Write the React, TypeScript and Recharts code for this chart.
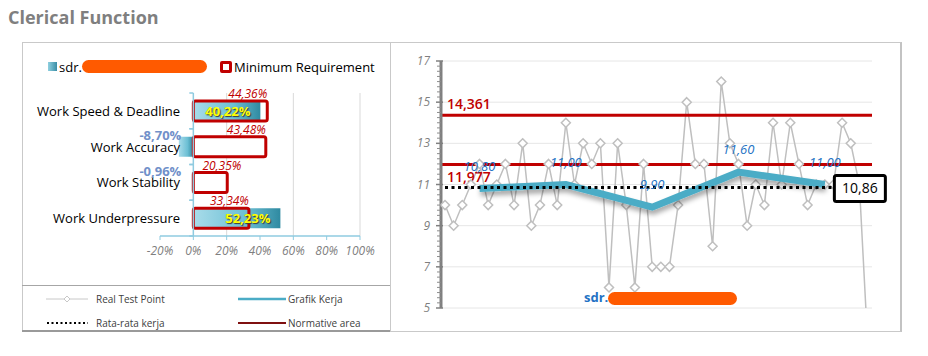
import React from 'react';
import {
  BarChart,
  Bar,
  XAxis,
  YAxis,
  CartesianGrid,
  ReferenceLine,
  ReferenceDot,
  LabelList,
  LineChart,
  Line,
} from 'recharts';

const FONT = '"Open Sans", "Noto Sans", sans-serif';

// left panel: score vs minimum requirement (%)
const CATEGORIES = ['Work Speed & Deadline', 'Work Accuracy', 'Work Stability', 'Work Underpressure'];
const SCORES = [40.22, -8.7, -0.96, 52.23];
const MIN_REQUIREMENT = [44.36, 43.48, 20.35, 33.34];
const PCT_TICKS = [-20, 0, 20, 40, 60, 80, 100];
const PCT_GRID = [20, 40, 60, 80, 100];

// right panel: real test points per test
const TEST_POINTS = [
  10, 9, 10, 11, 12, 10, 11, 12, 10, 13,
  9, 10, 12, 10, 14, 11, 13, 12, 13, 6,
  13, 10, 6, 12, 7, 7, 7, 10, 15, 12,
  12, 8, 16, 13, 12, 9, 11, 10, 14, 11,
  14, 12, 10, 11, 11, 11, 14, 13, 11, 3,
];
const KERJA_AT = [5, 15, 25, 35, 45];
const KERJA_VALUES = [10.8, 11.0, 9.9, 11.6, 11.0];
const RATA_RATA = 10.86;
const RATA_END = 46;
const RATA_LABEL_AT = 49;
const NORMATIVE = [14.361, 11.977];
const Y_TICKS = [5, 7, 9, 11, 13, 15, 17];

const comma = (v: number, d: number) => v.toFixed(d).replace('.', ',');

const barData = CATEGORIES.map((name, i) => ({
  name,
  score: SCORES[i],
  minBg: MIN_REQUIREMENT[i],
  min: MIN_REQUIREMENT[i],
}));

const lineData = TEST_POINTS.map((v, i) => {
  const k = KERJA_AT.indexOf(i + 1);
  return { test: i + 1, real: v, kerja: k >= 0 ? KERJA_VALUES[k] : null };
});

// bar chart geometry
const BAR_W = 368;
const BAR_H = 243;
const BAR_M = { top: 51, right: 30, bottom: 19, left: 0 };
const BAR_YAXIS_W = 138;
const BAR_PLOT_W = BAR_W - BAR_YAXIS_W - BAR_M.right;
const BAR_PLOT_H = BAR_H - BAR_M.top - BAR_M.bottom - 30;
const ZERO_SHIFT = (BAR_PLOT_W * 20) / 120;

// line chart geometry
const LINE_W = 502;
const LINE_H = 290;
const LINE_YAXIS_W = 41;
const LINE_M = { top: 19, right: 30, bottom: 24, left: 0 };
const LINE_PLOT_H = LINE_H - LINE_M.top - LINE_M.bottom;

function CatTick(props: any) {
  const { x, y, payload } = props;
  const zx = x + ZERO_SHIFT;
  const half = BAR_PLOT_H / CATEGORIES.length / 2;
  return (
    <g>
      <line x1={zx - 4} x2={zx} y1={y - half} y2={y - half} stroke="#8fcbe0" strokeWidth={1.5} />
      <line x1={zx - 4} x2={zx} y1={y + half} y2={y + half} stroke="#8fcbe0" strokeWidth={1.5} />
      <text x={x + 20} y={y + 5} textAnchor="end" fontSize={13} fill="#000">
        {payload.value}
      </text>
    </g>
  );
}

function rectOf(props: any) {
  const vb = props.viewBox || {};
  const x = props.x ?? vb.x;
  const y = props.y ?? vb.y;
  const w = props.width ?? vb.width;
  const h = props.height ?? vb.height;
  return { left: Math.min(x, x + w), right: Math.max(x, x + w), top: Math.min(y, y + h), h: Math.abs(h) };
}

function ScoreLabel(props: any) {
  const { value } = props;
  if (value == null) return null;
  const r = rectOf(props);
  const text = `${comma(value, 2)}%`;
  if (value >= 0) {
    return (
      <text
        x={r.right - 10}
        y={r.top + r.h / 2 + 5}
        textAnchor="end"
        fontSize={13}
        fontWeight={700}
        fill="#ffff00"
        style={{ textShadow: '1px 1px 1px #3a3a3a' }}
      >
        {text}
      </text>
    );
  }
  return (
    <text x={r.right - 12} y={r.top + 3} textAnchor="end" fontSize={13} fontWeight={700} fill="#7190c9">
      {text}
    </text>
  );
}

function MinLabel(props: any) {
  const { value } = props;
  if (value == null) return null;
  const r = rectOf(props);
  return (
    <text
      x={Math.max(r.right, r.left + 48)}
      y={r.top - 3}
      textAnchor="end"
      fontSize={12}
      fontStyle="italic"
      fill="#c00000"
    >
      {`${comma(value, 2)}%`}
    </text>
  );
}

function ValueTick(props: any) {
  const { x, y, payload } = props;
  const step = LINE_PLOT_H / (Y_TICKS.length - 1) / 8;
  const minors = [];
  if (payload.value > Y_TICKS[0]) {
    for (let k = 1; k < 8; k++) {
      minors.push(
        <line key={k} x1={x - 4} x2={x} y1={y + k * step} y2={y + k * step} stroke="#8c8c8c" strokeWidth={1} />
      );
    }
  }
  return (
    <g>
      <line x1={x - 5} x2={x + 2} y1={y} y2={y} stroke="#808080" strokeWidth={1.5} />
      {minors}
      <text x={x - 11} y={y + 4} textAnchor="end" fontSize={12} fontStyle="italic" fill="#7f7f7f">
        {payload.value}
      </text>
    </g>
  );
}

function Diamond(props: any) {
  const { cx, cy } = props;
  if (cx == null || cy == null) return null;
  const s = 4.5;
  return (
    <path
      d={`M${cx},${cy - s}L${cx + s},${cy}L${cx},${cy + s}L${cx - s},${cy}Z`}
      fill="#ffffff"
      stroke="#bfbfbf"
      strokeWidth={1.5}
    />
  );
}

function KerjaLabel(props: any) {
  const { value } = props;
  if (value == null) return null;
  const vb = props.viewBox || {};
  const x = (props.x ?? vb.x) + (props.width ?? vb.width ?? 0) / 2;
  const y = props.y ?? vb.y;
  return (
    <text x={x} y={y - 18} textAnchor="middle" fontSize={13} fontStyle="italic" fill="#2372c4">
      {comma(value, 2)}
    </text>
  );
}

function RataBox(props: any) {
  const { cx, cy } = props;
  return (
    <g>
      <rect x={cx - 25} y={cy - 12} width={51} height={26} fill="#ffffff" stroke="#000" strokeWidth={3} rx={2} />
      <text x={cx + 0.5} y={cy + 6} textAnchor="middle" fontSize={14} fill="#000">
        {comma(RATA_RATA, 2)}
      </text>
    </g>
  );
}

function normLabel(text: string, above: boolean) {
  return (p: any) => {
    const vb = p.viewBox || {};
    return (
      <text x={vb.x + 6} y={above ? vb.y - 6 : vb.y + 18} fontSize={14} fontWeight={600} fill="#c00000">
        {text}
      </text>
    );
  };
}

function Redacted({ left, top, width, height }: any) {
  return (
    <div
      style={{
        position: 'absolute',
        left,
        top,
        width,
        height,
        background: '#ff5a00',
        borderRadius: height / 2,
      }}
    />
  );
}

function LegendRow({ left, top, symbol, label }: any) {
  return (
    <div style={{ position: 'absolute', left, top, display: 'flex', alignItems: 'center', fontSize: 10, color: '#404040' }}>
      <svg width={52} height={10}>
        {symbol}
      </svg>
      <span>{label}</span>
    </div>
  );
}

export default function App() {
  return (
    <div
      style={{
        position: 'absolute',
        left: 0,
        top: 0,
        width: 928,
        height: 356,
        fontFamily: FONT,
        background: '#fff',
      }}
    >
      <div style={{ position: 'absolute', left: 8, top: 5, fontSize: 18, fontWeight: 700, color: '#7f7f7f' }}>
        Clerical Function
      </div>

      {/* panel frames */}
      <div style={{ position: 'absolute', left: 22, top: 42, width: 877, height: 288, border: '1px solid #c9c9c9', borderRight: '2px solid #c3c3c3' }} />
      <div style={{ position: 'absolute', left: 390, top: 42, width: 1, height: 290, background: '#c9c9c9' }} />
      <div style={{ position: 'absolute', left: 22, top: 285, width: 368, height: 1, background: '#a6a6a6' }} />
      <div style={{ position: 'absolute', left: 22, top: 330, width: 368, height: 2, background: '#9a9a9a' }} />

      {/* left legend */}
      <div style={{ position: 'absolute', left: 48, top: 62, width: 9, height: 9, background: 'linear-gradient(90deg, #8fd0e0, #3a8ea6)' }} />
      <div style={{ position: 'absolute', left: 59, top: 58, fontSize: 13, color: '#000' }}>sdr.</div>
      <Redacted left={82} top={60} width={125} height={13} />
      <div style={{ position: 'absolute', left: 220, top: 61, width: 6, height: 6, border: '3px solid #c00000', borderRadius: 2, background: '#fff' }} />
      <div style={{ position: 'absolute', left: 234, top: 58, fontSize: 13, color: '#000' }}>Minimum Requirement</div>

      <div style={{ position: 'absolute', left: 22, top: 42 }}>
        <BarChart
          width={BAR_W}
          height={BAR_H}
          data={barData}
          layout="vertical"
          margin={BAR_M}
          barSize={20}
          barGap={-20}
        >
          <defs>
            <linearGradient id="tealGrad" x1="0" y1="0" x2="1" y2="0">
              <stop offset="0%" stopColor="#a9dcea" />
              <stop offset="60%" stopColor="#6cbfd4" />
              <stop offset="100%" stopColor="#2f8aa1" />
            </linearGradient>
          </defs>
          <CartesianGrid horizontal={false} verticalValues={PCT_GRID} stroke="#d9d9d9" />
          <XAxis
            type="number"
            domain={[-20, 100]}
            ticks={PCT_TICKS}
            tickFormatter={(v: number) => `${v}%`}
            axisLine={{ stroke: '#8fcbe0', strokeWidth: 1.5 }}
            tickLine={{ stroke: '#8fcbe0' }}
            tickSize={4}
            tickMargin={6}
            height={30}
            tick={{ fontSize: 12, fontStyle: 'italic', fill: '#7f7f7f' }}
          />
          <YAxis
            type="category"
            dataKey="name"
            width={BAR_YAXIS_W}
            axisLine={false}
            tickLine={false}
            tickSize={0}
            tickMargin={0}
            tick={CatTick}
          />
          <ReferenceLine x={0} stroke="#8fcbe0" strokeWidth={1.5} />
          <Bar dataKey="minBg" fill="#ffffff" isAnimationActive={false} legendType="none" />
          <Bar dataKey="score" fill="url(#tealGrad)" isAnimationActive={false}>
            <LabelList dataKey="score" content={ScoreLabel} />
          </Bar>
          <Bar dataKey="min" fill="none" stroke="#c00000" strokeWidth={3} radius={2} isAnimationActive={false}>
            <LabelList dataKey="min" content={MinLabel} />
          </Bar>
        </BarChart>
      </div>

      {/* legend of the right chart, in the left panel */}
      <LegendRow
        left={44}
        top={292}
        label="Real Test Point"
        symbol={
          <g>
            <line x1={2} x2={44} y1={5} y2={5} stroke="#c8c8c8" strokeWidth={1} />
            <path d="M23,2L26,5L23,8L20,5Z" fill="#fff" stroke="#c8c8c8" strokeWidth={1} />
          </g>
        }
      />
      <LegendRow
        left={44}
        top={316}
        label="Rata-rata kerja"
        symbol={<line x1={3} x2={44} y1={5} y2={5} stroke="#000" strokeWidth={2} strokeDasharray="2 2.5" />}
      />
      <LegendRow
        left={236}
        top={292}
        label="Grafik Kerja"
        symbol={<line x1={2} x2={50} y1={5} y2={5} stroke="#4bacc6" strokeWidth={2.5} />}
      />
      <LegendRow
        left={236}
        top={316}
        label="Normative area"
        symbol={<line x1={2} x2={50} y1={5} y2={5} stroke="#7f1010" strokeWidth={2} />}
      />

      {/* right panel: test points + normative lines */}
      <div style={{ position: 'absolute', left: 400, top: 42 }}>
        <LineChart width={LINE_W} height={LINE_H} data={lineData} margin={LINE_M}>
          <CartesianGrid vertical={false} stroke="#e6e6e6" />
          <XAxis dataKey="test" type="category" hide padding={{ left: 4, right: 4 }} />
          <YAxis
            domain={[5, 17]}
            ticks={Y_TICKS}
            allowDataOverflow
            width={LINE_YAXIS_W}
            axisLine={{ stroke: '#808080', strokeWidth: 3 }}
            tickLine={false}
            tickSize={0}
            tickMargin={0}
            tick={ValueTick}
          />
          <Line
            dataKey="real"
            stroke="#bfbfbf"
            strokeWidth={1.5}
            dot={Diamond}
            activeDot={false}
            isAnimationActive={false}
          />
          {NORMATIVE.map((v, i) => (
            <ReferenceLine
              key={v}
              y={v}
              stroke="#c00000"
              strokeWidth={3}
              label={normLabel(comma(v, 3), i === 0)}
            />
          ))}
        </LineChart>
      </div>

      {/* right panel overlay: work graph + average, drawn above the test points */}
      <div style={{ position: 'absolute', left: 400, top: 42 }}>
        <LineChart
          width={LINE_W}
          height={LINE_H}
          data={lineData}
          margin={{ ...LINE_M, left: LINE_M.left + LINE_YAXIS_W }}
        >
          <defs>
            <filter id="kerjaShadow" x="-10%" y="-50%" width="120%" height="200%">
              <feDropShadow dx="1" dy="4" stdDeviation="2.5" floodColor="#000" floodOpacity="0.35" />
            </filter>
          </defs>
          <XAxis dataKey="test" type="category" hide padding={{ left: 4, right: 4 }} />
          <YAxis domain={[5, 17]} allowDataOverflow hide />
          <Line
            dataKey="kerja"
            stroke="#4bacc6"
            strokeWidth={7}
            connectNulls
            dot={false}
            activeDot={false}
            filter="url(#kerjaShadow)"
            isAnimationActive={false}
          >
            <LabelList dataKey="kerja" content={KerjaLabel} />
          </Line>
          <ReferenceLine
            segment={[
              { x: 1, y: RATA_RATA },
              { x: RATA_END, y: RATA_RATA },
            ]}
            stroke="#000"
            strokeWidth={3}
            strokeDasharray="3 3.5"
          />
          <ReferenceDot x={RATA_LABEL_AT} y={RATA_RATA} shape={RataBox} />
        </LineChart>
      </div>

      <div style={{ position: 'absolute', left: 584, top: 288, fontSize: 13, fontWeight: 700, color: '#2372c4' }}>sdr.</div>
      <Redacted left={608} top={292} width={129} height={13} />
    </div>
  );
}
